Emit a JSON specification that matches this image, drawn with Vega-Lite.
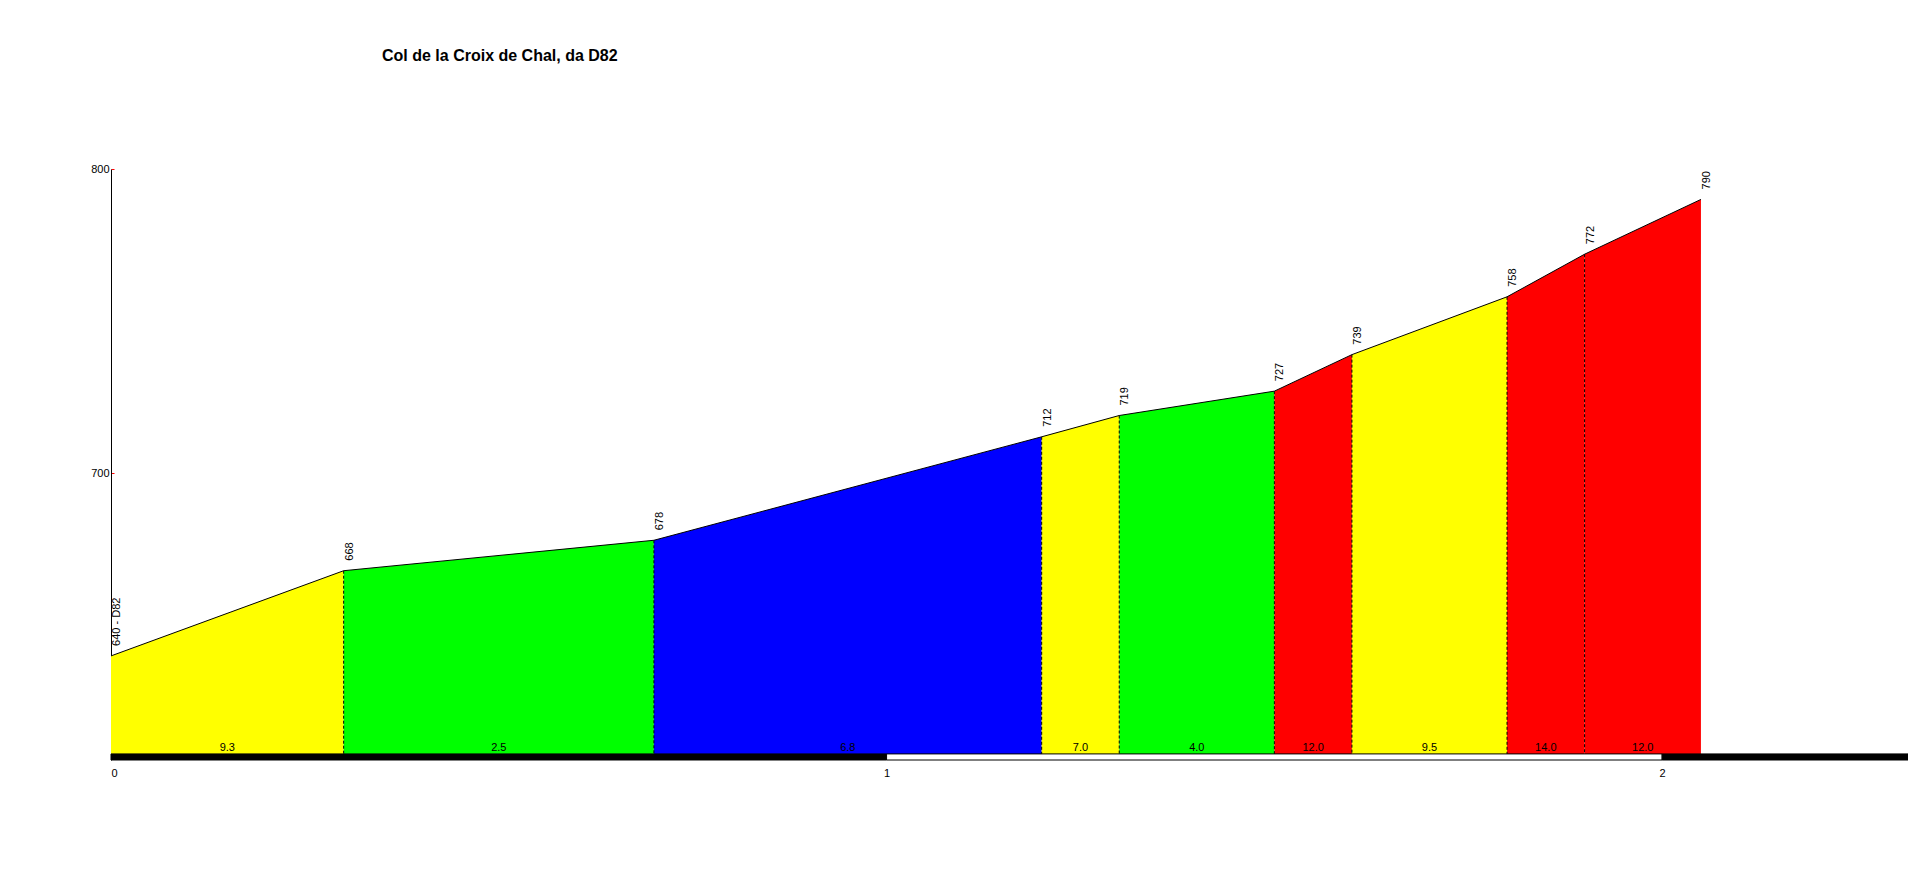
{
  "$schema": "https://vega.github.io/schema/vega-lite/v6.json",
  "autosize": {"type": "none"},
  "padding": {"left": 111, "top": 169, "right": 0, "bottom": 121},
  "width": 1797,
  "height": 591,
  "background": "white",
  "title": {
    "text": "Col de la Croix de Chal, da D82",
    "anchor": "start",
    "frame": "group",
    "dx": 271,
    "offset": 99,
    "font": "Liberation Sans",
    "fontSize": 16,
    "fontWeight": "bold",
    "color": "black"
  },
  "config": {
    "view": {"stroke": null},
    "font": "Liberation Sans"
  },
  "datasets": {
    "points": [
      {"km": 0, "ele": 640, "label": "640 - D82"},
      {"km": 0.3, "ele": 668, "label": "668"},
      {"km": 0.7, "ele": 678, "label": "678"},
      {"km": 1.2, "ele": 712, "label": "712"},
      {"km": 1.3, "ele": 719, "label": "719"},
      {"km": 1.5, "ele": 727, "label": "727"},
      {"km": 1.6, "ele": 739, "label": "739"},
      {"km": 1.8, "ele": 758, "label": "758"},
      {"km": 1.9, "ele": 772, "label": "772"},
      {"km": 2.05, "ele": 790, "label": "790"}
    ],
    "areas": [
      {"seg": 1, "km": 0, "ele": 640, "color": "#ffff00"},
      {"seg": 1, "km": 0.3, "ele": 668, "color": "#ffff00"},
      {"seg": 2, "km": 0.3, "ele": 668, "color": "#00ff00"},
      {"seg": 2, "km": 0.7, "ele": 678, "color": "#00ff00"},
      {"seg": 3, "km": 0.7, "ele": 678, "color": "#0000ff"},
      {"seg": 3, "km": 1.2, "ele": 712, "color": "#0000ff"},
      {"seg": 4, "km": 1.2, "ele": 712, "color": "#ffff00"},
      {"seg": 4, "km": 1.3, "ele": 719, "color": "#ffff00"},
      {"seg": 5, "km": 1.3, "ele": 719, "color": "#00ff00"},
      {"seg": 5, "km": 1.5, "ele": 727, "color": "#00ff00"},
      {"seg": 6, "km": 1.5, "ele": 727, "color": "#ff0000"},
      {"seg": 6, "km": 1.6, "ele": 739, "color": "#ff0000"},
      {"seg": 7, "km": 1.6, "ele": 739, "color": "#ffff00"},
      {"seg": 7, "km": 1.8, "ele": 758, "color": "#ffff00"},
      {"seg": 8, "km": 1.8, "ele": 758, "color": "#ff0000"},
      {"seg": 8, "km": 1.9, "ele": 772, "color": "#ff0000"},
      {"seg": 9, "km": 1.9, "ele": 772, "color": "#ff0000"},
      {"seg": 9, "km": 2.05, "ele": 790, "color": "#ff0000"}
    ],
    "grades": [
      {"mid": 0.15, "grade": "9.3"},
      {"mid": 0.5, "grade": "2.5"},
      {"mid": 0.95, "grade": "6.8"},
      {"mid": 1.25, "grade": "7.0"},
      {"mid": 1.4, "grade": "4.0"},
      {"mid": 1.55, "grade": "12.0"},
      {"mid": 1.7, "grade": "9.5"},
      {"mid": 1.85, "grade": "14.0"},
      {"mid": 1.975, "grade": "12.0"}
    ],
    "bar": [
      {"from": 0, "to": 1, "fill": "black"},
      {"from": 1, "to": 2, "fill": "white"},
      {"from": 2, "to": 2.317, "fill": "black"}
    ]
  },
  "layer": [
    {
      "data": {"name": "areas"},
      "mark": {"type": "area", "interpolate": "linear"},
      "encoding": {
        "x": {
          "field": "km",
          "type": "quantitative",
          "scale": {"domain": [0, 2.317], "nice": false, "zero": false},
          "axis": {
            "title": null,
            "values": [0, 1, 2],
            "format": "d",
            "ticks": false,
            "domain": false,
            "grid": false,
            "labelFont": "Liberation Sans",
            "labelFontSize": 11,
            "labelColor": "black",
            "labelPadding": 7
          }
        },
        "y": {
          "field": "ele",
          "type": "quantitative",
          "scale": {"domain": [605.8, 800], "nice": false, "zero": false},
          "axis": {
            "title": null,
            "values": [700, 800],
            "grid": false,
            "domainColor": "black",
            "domainWidth": 1,
            "tickColor": "red",
            "tickSize": -3,
            "labelFont": "Liberation Sans",
            "labelFontSize": 11,
            "labelColor": "black",
            "labelPadding": 5
          }
        },
        "y2": {"datum": 607.8},
        "detail": {"field": "seg"},
        "color": {"field": "color", "type": "nominal", "scale": null}
      }
    },
    {
      "data": {"name": "points"},
      "transform": [{"filter": "datum.km > 0 && datum.km < 2"}],
      "mark": {"type": "rule", "color": "black", "strokeWidth": 1, "strokeDash": [3, 2]},
      "encoding": {
        "x": {"field": "km", "type": "quantitative"},
        "y": {"field": "ele", "type": "quantitative"},
        "y2": {"datum": 607.8}
      }
    },
    {
      "data": {"name": "points"},
      "mark": {"type": "line", "color": "black", "strokeWidth": 1},
      "encoding": {
        "x": {"field": "km", "type": "quantitative"},
        "y": {"field": "ele", "type": "quantitative"}
      }
    },
    {
      "data": {"name": "points"},
      "mark": {
        "type": "text",
        "angle": 270,
        "align": "left",
        "baseline": "middle",
        "dx": 10,
        "dy": 6,
        "font": "Liberation Sans",
        "fontSize": 11,
        "color": "black"
      },
      "encoding": {
        "x": {"field": "km", "type": "quantitative"},
        "y": {"field": "ele", "type": "quantitative"},
        "text": {"field": "label"}
      }
    },
    {
      "data": {"name": "grades"},
      "mark": {
        "type": "text",
        "align": "center",
        "baseline": "alphabetic",
        "dy": -3,
        "font": "Liberation Sans",
        "fontSize": 11,
        "color": "black"
      },
      "encoding": {
        "x": {"field": "mid", "type": "quantitative"},
        "y": {"datum": 607.8, "type": "quantitative"},
        "text": {"field": "grade"}
      }
    },
    {
      "data": {"name": "bar"},
      "mark": {"type": "rect", "stroke": "black", "strokeWidth": 1},
      "encoding": {
        "x": {"field": "from", "type": "quantitative"},
        "x2": {"field": "to"},
        "y": {"datum": 607.8, "type": "quantitative"},
        "y2": {"datum": 605.8},
        "fill": {"field": "fill", "type": "nominal", "scale": null}
      }
    }
  ]
}
